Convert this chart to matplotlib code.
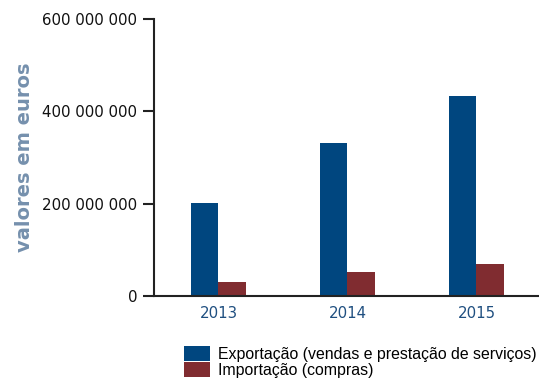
import matplotlib
matplotlib.use("Agg")
import matplotlib.pyplot as plt
import numpy as np

years = ["2013", "2014", "2015"]
exportacao = [201_000_000, 331_000_000, 433_000_000]
importacao = [30_000_000, 52_000_000, 69_000_000]
y_ticks = [0, 200_000_000, 400_000_000, 600_000_000]
y_tick_labels = ["0", "200 000 000", "400 000 000", "600 000 000"]
series_labels = ["Exportação (vendas e prestação de serviços)", "Importação (compras)"]

blue = "#00467f"
red = "#802c30"

fig = plt.figure(figsize=(5.39, 3.85), dpi=100)
ax = fig.add_axes([154 / 539, 1 - 296 / 385, (541 - 154) / 539, (296 - 19) / 385])

x = np.arange(len(years))
w = 0.21
b1 = ax.bar(x - w / 2, exportacao, width=w, color=blue, label=series_labels[0])
b2 = ax.bar(x + w / 2, importacao, width=w, color=red, label=series_labels[1])

ax.set_xlim(-0.5, 2.5)
ax.set_ylim(0, 600_000_000)
ax.set_yticks(y_ticks)
ax.set_yticklabels(y_tick_labels, fontsize=10.8, color="#111111")
ax.set_xticks(x)
ax.set_xticklabels(years, fontsize=10.8, color="#1f4f80")
ax.tick_params(axis="y", length=8, width=1.5, color="#222222", pad=4)
ax.tick_params(axis="x", length=0, pad=7)
for s in ["top", "right"]:
    ax.spines[s].set_visible(False)
for s in ["left", "bottom"]:
    ax.spines[s].set_linewidth(1.5)
    ax.spines[s].set_color("#222222")

ax.set_ylabel("valores em euros", fontsize=14, fontweight="bold", color="#7590ad")
ax.yaxis.set_label_coords(-0.31, 0.5)

fig.legend(handles=[b1, b2], labels=series_labels, loc="upper left",
           bbox_to_anchor=(181 / 539, 1 - 343 / 385), frameon=False,
           prop={"family": "Liberation Sans", "size": 11.4},
           handlelength=1.65, handleheight=1.1, handletextpad=0.5,
           labelspacing=0.0, borderpad=0.2, borderaxespad=0)

fig.savefig("out.png", dpi=100)
